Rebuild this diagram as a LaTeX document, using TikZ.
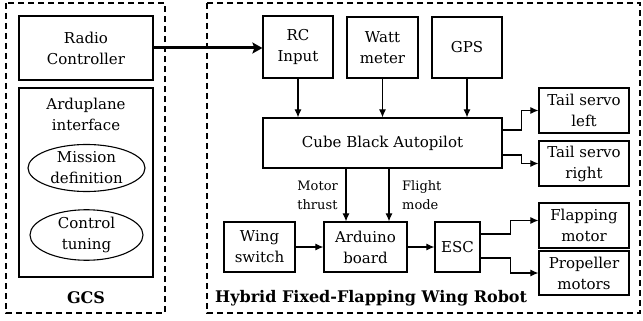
\documentclass[tikz,border=0pt]{standalone}
\usepackage{fontspec}
\setmainfont{DejaVu Serif}
\usetikzlibrary{arrows.meta,shapes.geometric,calc}
\begin{document}
\begin{tikzpicture}[x=1pt,y=-1pt,
  every node/.style={font=\fontsize{15}{21}\selectfont, align=center, inner sep=0pt},
  box/.style={draw, line width=1.2pt},
  oval/.style={draw, ellipse, line width=1.1pt},
  frame/.style={draw, line width=1.6pt, dash pattern=on 6pt off 4pt},
  arr/.style={line width=1.1pt, -{Latex[length=8pt,width=7pt]}},
  bigarr/.style={line width=3pt, -{Stealth[length=10pt,width=11pt,inset=2pt]}},
  title/.style={font=\fontsize{16}{21}\selectfont\bfseries},
  lbl/.style={font=\fontsize{13}{19}\selectfont, align=left}]
\useasboundingbox (0,0) rectangle (643,321);
% frames
\draw[frame] (6,3) rectangle (165,313);
\draw[frame] (207,3) rectangle (640,313);
% GCS side
\node[box, minimum width=134pt, minimum height=64pt] (radio) at (86,48) {Radio\\Controller};
\node[box, minimum width=134pt, minimum height=189pt] (ardu) at (86,182.5) {};
\node (arduT) at (86,114) {Arduplane\\interface};
\node[oval, minimum width=117pt, minimum height=47pt] (mission) at (86.5,168) {Mission\\definition};
\node[oval, minimum width=113pt, minimum height=44pt] (control) at (86.5,235) {Control\\tuning};
\node[title] (gcs) at (86,298) {GCS};
% Robot side
\node[box, minimum width=70pt, minimum height=62pt] (rc) at (298,47) {RC\\Input};
\node[box, minimum width=71pt, minimum height=61pt] (watt) at (382.5,47.5) {Watt\\meter};
\node[box, minimum width=70pt, minimum height=61pt] (gps) at (467,47.5) {GPS};
\node[box, minimum width=239pt, minimum height=50pt] (cube) at (382.5,143) {Cube Black Autopilot};
\node[box, minimum width=90pt, minimum height=45pt] (tsl) at (584,110.5) {Tail servo\\left};
\node[box, minimum width=90pt, minimum height=45pt] (tsr) at (584,163.5) {Tail servo\\right};
\node[box, minimum width=83pt, minimum height=50pt] (arduino) at (365.5,247) {Arduino\\board};
\node[box, minimum width=71pt, minimum height=50pt] (wing) at (259.5,247) {Wing\\switch};
\node[box, minimum width=45pt, minimum height=50pt] (esc) at (457.5,247) {ESC};
\node[box, minimum width=90pt, minimum height=45pt] (flap) at (584,225.5) {Flapping\\motor};
\node[box, minimum width=90pt, minimum height=44pt] (prop) at (584,273) {Propeller\\motors};
\node[title, anchor=west] (robot) at (215,298) {Hybrid Fixed-Flapping Wing Robot};
\node[lbl, anchor=east] (mt) at (338,195) {Motor\\thrust};
\node[lbl, anchor=west] (fm) at (402,195) {Flight\\mode};
% connectors
\draw[bigarr] (radio.east) -- (radio.east -| rc.west);
\draw[arr] (rc.south) -- (rc.south |- cube.north);
\draw[arr] (watt.south) -- (watt.south |- cube.north);
\draw[arr] (gps.south) -- (gps.south |- cube.north);
\draw[arr] ([yshift=13pt]cube.east) -- ++(19,0) |- (tsl.west);
\draw[arr] ([yshift=-12pt]cube.east) -- ++(19,0) |- (tsr.west);
\draw[arr] ([xshift=-19.5pt]arduino.north |- cube.south) -- ([xshift=-19.5pt]arduino.north);
\draw[arr] ([xshift=23.5pt]arduino.north |- cube.south) -- ([xshift=23.5pt]arduino.north);
\draw[arr] (wing.east) -- (arduino.west);
\draw[arr] (arduino.east) -- (esc.west);
\draw[arr] ([yshift=13pt]esc.east) -- ++(30,0) |- ([yshift=5pt]flap.west);
\draw[arr] ([yshift=-11pt]esc.east) -- ++(30,0) |- (prop.west);
\end{tikzpicture}
\end{document}
